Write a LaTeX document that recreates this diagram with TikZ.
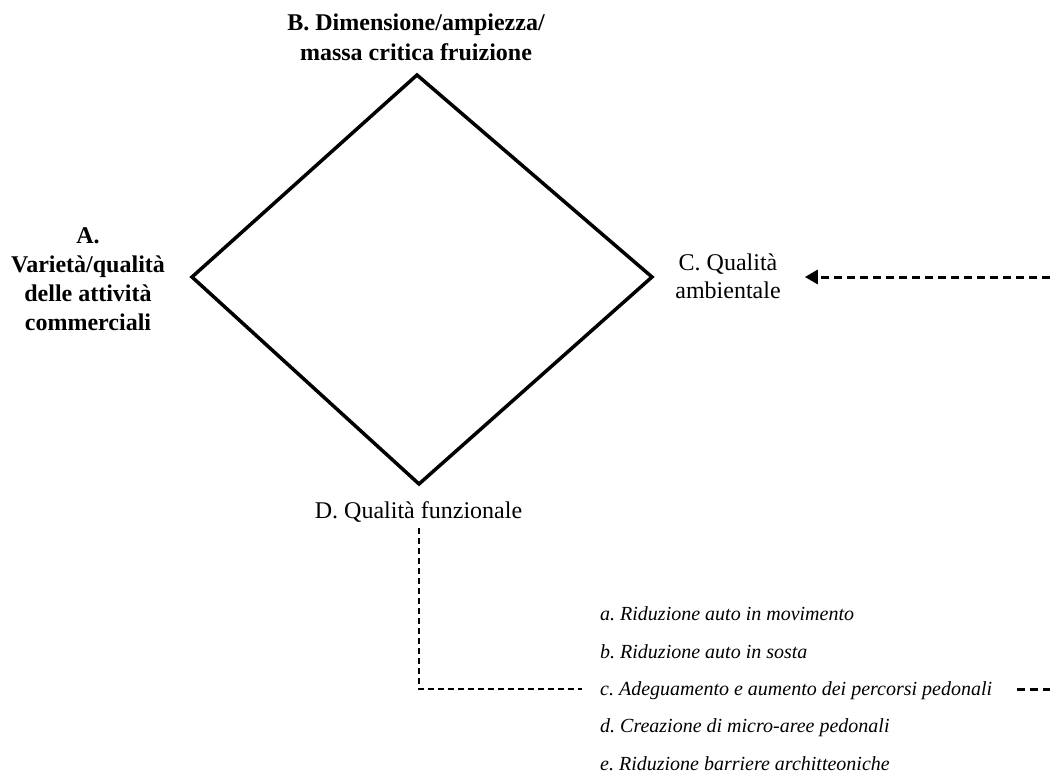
\documentclass[tikz,border=0pt]{standalone}
\usepackage{fontspec}
\setmainfont{Liberation Serif}
\usetikzlibrary{arrows.meta}
\frenchspacing
\begin{document}
\begin{tikzpicture}[x=1pt,y=-1pt,
  lbl/.style={inner sep=0pt, align=center, font=\fontsize{24}{28}\selectfont},
  blbl/.style={inner sep=0pt, align=center, font=\fontsize{24}{29}\selectfont\bfseries},
  ilist/.style={inner sep=0pt, align=left, font=\fontsize{20}{37.3}\selectfont\itshape},
  edge/.style={line width=3.5pt, line join=miter},
  dasharrow/.style={line width=3pt, dash pattern=on 8pt off 5pt, -{Triangle[length=13pt,width=14pt]}},
  dashthick/.style={line width=3pt, dash pattern=on 8pt off 5pt},
  dashthin/.style={line width=2pt, dash pattern=on 6pt off 4pt},
]
\useasboundingbox (0,0) rectangle (1050,776);
% diamond
\coordinate (top) at (417,75);
\coordinate (right) at (652,277);
\coordinate (bottom) at (419,484);
\coordinate (left) at (192,277);
\draw[edge] (top) -- (right) -- (bottom) -- (left) -- cycle;
% labels (base anchor = baseline of last line)
\node[blbl, anchor=base, font=\fontsize{24}{31}\selectfont\bfseries] (B) at (416,61) {B. Dimensione/ampiezza/\\massa critica fruizione};
\node[blbl, anchor=base] (A) at (88,330) {A.\\Varietà/qualità\\delle attività\\commerciali};
\node[lbl, anchor=base] (C) at (728,298) {C. Qualità\\ambientale};
\node[lbl, anchor=base] (D) at (418.5,518) {D. Qualità funzionale};
\node[ilist, anchor=base west] (L) at (600,770) {a. Riduzione auto in movimento\\b. Riduzione auto in sosta\\c. Adeguamento e aumento dei percorsi pedonali\\d. Creazione di micro-aree pedonali\\e. Riduzione barriere architteoniche};
% connectors
\coordinate (cin) at (1050,277);
\draw[dasharrow, shorten >=24pt] (cin) -- (cin -| C.east);
\coordinate (corner) at (419,689);
\draw[dashthin, shorten <=6pt, shorten >=18pt] (D.south -| corner) -- (corner) -- (L.west |- corner);
\coordinate (rout) at (1050,689);
\draw[dashthick, shorten <=25pt] (L.east |- rout) -- (rout);
\end{tikzpicture}
\end{document}
